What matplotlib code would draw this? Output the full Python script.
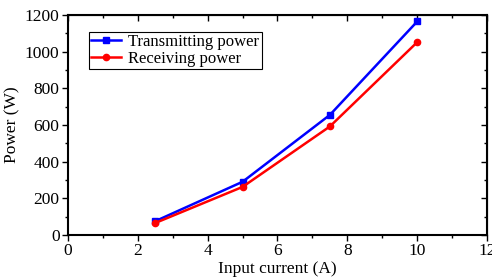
import matplotlib
matplotlib.use("Agg")
import matplotlib.pyplot as plt
from matplotlib.ticker import MultipleLocator

current = [2.5, 5.0, 7.5, 10.0]
transmitting = [75, 290, 655, 1165]
receiving = [65, 262, 592, 1052]

plt.rcParams['font.family'] = ['Liberation Serif', 'DejaVu Serif']

fig = plt.figure(figsize=(4.92, 2.79), dpi=100)
ax = fig.add_axes([0.138, 0.158, 0.852, 0.788])

ax.plot(current, transmitting, '-s', color='blue', lw=1.8, ms=4.5, label='Transmitting power')
ax.plot(current, receiving, '-o', color='red', lw=1.8, ms=4.5, label='Receiving power')

ax.set_xlim(0, 12)
ax.set_ylim(0, 1200)
ax.xaxis.set_major_locator(MultipleLocator(2))
ax.xaxis.set_minor_locator(MultipleLocator(1))
ax.yaxis.set_major_locator(MultipleLocator(200))
ax.yaxis.set_minor_locator(MultipleLocator(100))
ax.tick_params(which='both', direction='out', top=False, right=False, labelsize=12.5, width=1, pad=2)
ax.tick_params(which='major', length=4)
ax.tick_params(which='minor', length=2.5)

# inward ticks on top and right
sec_x = ax.secondary_xaxis('top')
sec_x.xaxis.set_major_locator(MultipleLocator(2))
sec_x.xaxis.set_minor_locator(MultipleLocator(1))
sec_x.tick_params(which='both', direction='in', labeltop=False, width=1)
sec_x.tick_params(which='major', length=4)
sec_x.tick_params(which='minor', length=2.5)
sec_y = ax.secondary_yaxis('right')
sec_y.yaxis.set_major_locator(MultipleLocator(200))
sec_y.yaxis.set_minor_locator(MultipleLocator(100))
sec_y.tick_params(which='both', direction='in', labelright=False, width=1)
sec_y.tick_params(which='major', length=4)
sec_y.tick_params(which='minor', length=2.5)

for s in ax.spines.values():
    s.set_linewidth(1.5)

ax.set_xlabel('Input current (A)', fontsize=12.5, labelpad=1)
ax.set_ylabel('Power (W)', fontsize=12.5, labelpad=3)

leg = ax.legend(loc='upper left', bbox_to_anchor=(0.05, 0.925), fontsize=12,
                frameon=True, fancybox=False, edgecolor='black', framealpha=1,
                handlelength=1.8, handletextpad=0.4, borderpad=0.15, labelspacing=0.05,
                borderaxespad=0)
leg.get_frame().set_linewidth(0.8)

fig.savefig('out.png', dpi=100)
